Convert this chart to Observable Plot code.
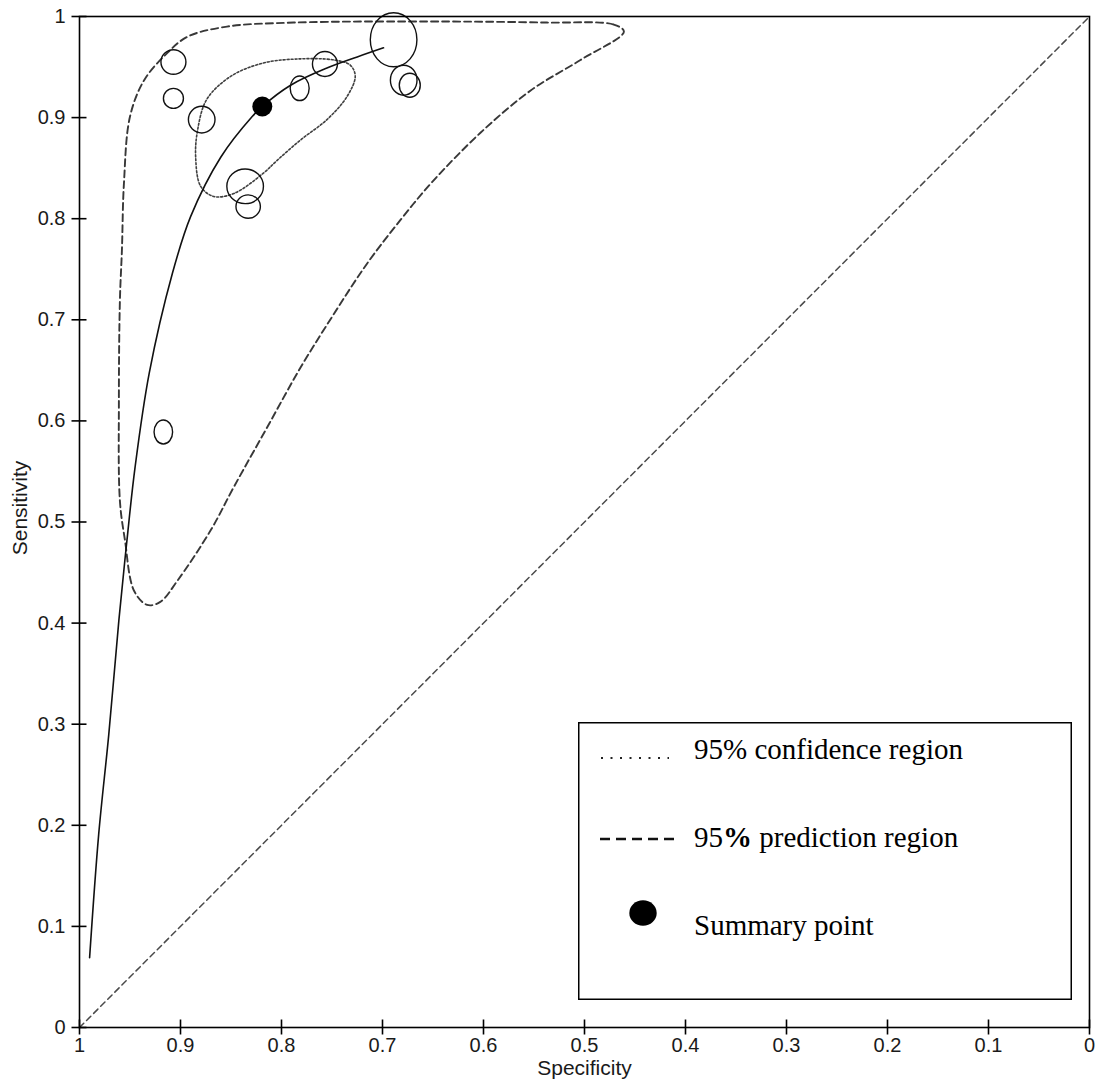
<!DOCTYPE html>
<html><head><meta charset="utf-8">
<script src="https://cdn.jsdelivr.net/npm/d3@7"></script>
<script src="https://cdn.jsdelivr.net/npm/@observablehq/plot@0.6"></script>
<style>
html,body{margin:0;padding:0;background:#fff;}
#wrap{position:relative;width:1098px;height:1084px;}
#wrap svg{display:block;}
#legend{position:absolute;left:578px;top:722px;}
</style></head><body>
<div id="wrap"></div>
<script>
// ---- data ----
const studySpec = [0.907, 0.907, 0.879, 0.836, 0.833, 0.782, 0.757, 0.689, 0.679, 0.673, 0.917];
const studySens = [0.955, 0.919, 0.898, 0.832, 0.812, 0.929, 0.953, 0.977, 0.937, 0.932, 0.589];
const studyWeightSens = [151, 100, 177, 300, 137, 151, 156, 729, 225, 144, 144];
const studyWeightSpec = [156, 100, 177, 335, 149, 90, 156, 543, 177, 110, 86];

const summarySpec = [0.819];
const summarySens = [0.911];

const srocSpec = [0.990, 0.981, 0.971, 0.961, 0.953, 0.945, 0.931, 0.908, 0.890, 0.860, 0.829, 0.819, 0.791, 0.755, 0.725, 0.699];
const srocSens = [0.069, 0.191, 0.290, 0.403, 0.482, 0.554, 0.647, 0.746, 0.802, 0.861, 0.901, 0.911, 0.932, 0.949, 0.960, 0.969];

const predSpec = [0.461, 0.471, 0.537, 0.636, 0.788, 0.854, 0.893, 0.913, 0.936, 0.950, 0.956, 0.958, 0.960, 0.961, 0.960, 0.955, 0.946, 0.933, 0.920, 0.903, 0.870, 0.847, 0.814, 0.781, 0.748, 0.715, 0.682, 0.652, 0.603, 0.553, 0.504];
const predSens = [0.985, 0.992, 0.994, 0.995, 0.994, 0.990, 0.980, 0.964, 0.937, 0.901, 0.835, 0.769, 0.719, 0.620, 0.521, 0.482, 0.432, 0.418, 0.421, 0.442, 0.492, 0.535, 0.594, 0.653, 0.706, 0.756, 0.799, 0.835, 0.885, 0.927, 0.957];

const confSpec = [0.748, 0.732, 0.727, 0.735, 0.755, 0.781, 0.804, 0.818, 0.847, 0.867, 0.880, 0.885, 0.883, 0.874, 0.850, 0.818, 0.784];
const confSens = [0.957, 0.952, 0.941, 0.921, 0.898, 0.878, 0.858, 0.845, 0.825, 0.822, 0.832, 0.861, 0.888, 0.918, 0.941, 0.954, 0.958];

const diagSpec = [1, 0];
const diagSens = [0, 1];

const tickValues = [0, 0.1, 0.2, 0.3, 0.4, 0.5, 0.6, 0.7, 0.8, 0.9, 1];
const tickLabels = ["0", "0.1", "0.2", "0.3", "0.4", "0.5", "0.6", "0.7", "0.8", "0.9", "1"];

const xTitle = "Specificity";
const yTitle = "Sensitivity";
const legendLabels = ["95% confidence region", "95% prediction region", "Summary point"];

// ---- tables ----
const studies = studySpec.map((s, i) => ({spec: s, sens: studySens[i], wSens: studyWeightSens[i], wSpec: studyWeightSpec[i]}));
const summary = summarySpec.map((s, i) => ({spec: s, sens: summarySens[i]}));
const sroc = srocSpec.map((s, i) => ({spec: s, sens: srocSens[i]}));
const pred = predSpec.map((s, i) => ({spec: s, sens: predSens[i]}));
const conf = confSpec.map((s, i) => ({spec: s, sens: confSens[i]}));
const diag = diagSpec.map((s, i) => ({spec: s, sens: diagSens[i]}));
const fmt = d => tickLabels[tickValues.indexOf(d)];

// ellipse symbol (width/height ratio from the two study weights)
const ellipse = (aspect) => ({
  draw(ctx, size) {
    const ry = Math.sqrt(size / Math.PI), rx = ry * aspect, k = 0.5522847;
    ctx.moveTo(rx, 0);
    ctx.bezierCurveTo(rx, k * ry, k * rx, ry, 0, ry);
    ctx.bezierCurveTo(-k * rx, ry, -rx, k * ry, -rx, 0);
    ctx.bezierCurveTo(-rx, -k * ry, -k * rx, -ry, 0, -ry);
    ctx.bezierCurveTo(k * rx, -ry, rx, -k * ry, rx, 0);
    ctx.closePath();
  }
});

const axisFont = "'Liberation Sans', Arial, sans-serif";
const ink = "#1a1a1a";

const chart = Plot.plot({
  width: 1098,
  height: 1084,
  marginLeft: 79,
  marginRight: 9,
  marginTop: 16,
  marginBottom: 57,
  style: {background: "white", fontFamily: axisFont},
  x: {domain: [1, 0]},
  y: {domain: [0, 1]},
  r: {type: "sqrt", domain: [0, 729], range: [0, 27]},
  marks: [
    Plot.line(diag, {x: "spec", y: "sens", stroke: "#4a4a4a", strokeWidth: 1.5, strokeDasharray: "6,4"}),
    Plot.line(pred, {x: "spec", y: "sens", curve: "catmull-rom-closed", stroke: "#383838", strokeWidth: 1.9, strokeDasharray: "7,4"}),
    Plot.line(conf, {x: "spec", y: "sens", curve: "catmull-rom-closed", stroke: "#404040", strokeWidth: 1.6, strokeDasharray: "2,2"}),
    Plot.line(sroc, {x: "spec", y: "sens", curve: "catmull-rom", stroke: "#111", strokeWidth: 1.6}),
    ...studies.map(d => Plot.dot([d], {x: "spec", y: "sens", r: "wSens", symbol: ellipse(Math.sqrt(d.wSpec / d.wSens)), fill: "none", stroke: "#111", strokeWidth: 1.4})),
    Plot.dot(summary, {x: "spec", y: "sens", r: 10, fill: "black", stroke: "none"}),
    Plot.frame({stroke: "black", strokeWidth: 1.6}),
    // tick marks crossing the axes
    Plot.axisX({ticks: tickValues, tickSize: 15, dy: -7.5, tickFormat: () => "", label: null, stroke: "black", strokeWidth: 1.6}),
    Plot.axisY({ticks: tickValues, tickSize: 15, dx: 7.5, tickFormat: () => "", label: null, stroke: "black", strokeWidth: 1.6}),
    // tick labels
    Plot.axisX({ticks: tickValues, tickSize: 0, tickPadding: 10, tickFormat: fmt, fontSize: 20, label: null, fill: ink}),
    Plot.axisY({ticks: tickValues, tickSize: 0, tickPadding: 14, tickFormat: fmt, fontSize: 20, label: null, fill: ink}),
    Plot.text([xTitle], {frameAnchor: "bottom", textAnchor: "middle", lineAnchor: "middle", dy: 41, fontSize: 21, fill: ink}),
    Plot.text([yTitle], {frameAnchor: "left", textAnchor: "middle", lineAnchor: "middle", rotate: -90, dx: -59, dy: -14, fontSize: 21, fill: ink})
  ]
});
document.getElementById("wrap").appendChild(chart);

// legend overlay
const W = 494, H = 278;
const lg = d3.select("#wrap").append("svg").attr("id", "legend").attr("width", W).attr("height", H)
  .style("font-family", "'Liberation Serif','Times New Roman',serif").style("font-size", "29px");
lg.append("rect").attr("x", 0.75).attr("y", 0.75).attr("width", W - 1.5).attr("height", H - 1.5)
  .attr("fill", "white").attr("stroke", "black").attr("stroke-width", 1.5);
lg.append("line").attr("x1", 23).attr("x2", 91).attr("y1", 36).attr("y2", 36)
  .attr("stroke", "#222").attr("stroke-width", 2).attr("stroke-dasharray", "2,7.5");
lg.append("line").attr("x1", 22).attr("x2", 99).attr("y1", 117).attr("y2", 117)
  .attr("stroke", "#111").attr("stroke-width", 2.6).attr("stroke-dasharray", "10,6");
lg.append("ellipse").attr("cx", 65).attr("cy", 191).attr("rx", 13.7).attr("ry", 12.7).attr("fill", "black");
lg.append("text").attr("x", 116).attr("y", 37).text(legendLabels[0]);
const t2 = lg.append("text").attr("x", 116).attr("y", 125);
t2.append("tspan").text("95");
t2.append("tspan").attr("font-weight", "bold").text("%");
t2.append("tspan").text(legendLabels[1].slice(3));
lg.append("text").attr("x", 116).attr("y", 213).text(legendLabels[2]);
</script>
</body></html>
